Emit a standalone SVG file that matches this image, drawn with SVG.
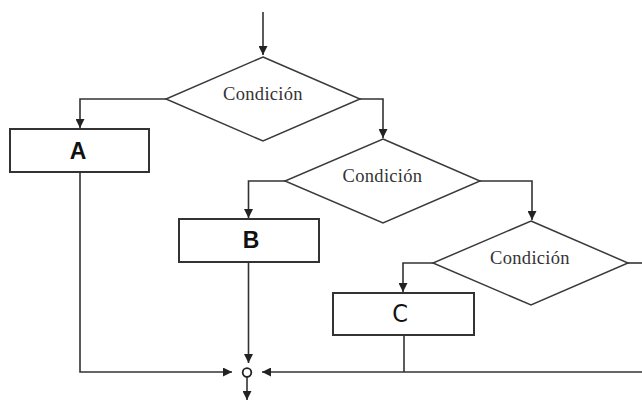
<svg xmlns="http://www.w3.org/2000/svg" width="642" height="401" viewBox="0 0 642 401">
<defs>
<style>
.conn{fill:none;stroke:#333;stroke-width:1.6}
.box{fill:#fff;stroke:#333;stroke-width:2}
.dia{fill:#fff;stroke:#3a3a3a;stroke-width:1.5}
.cond{font-family:"Liberation Serif","Times New Roman",serif;font-size:18.5px;letter-spacing:0.3px;fill:#333;text-anchor:middle}
.lbl{font-family:"Liberation Sans",Arial,sans-serif;font-size:23px;font-weight:bold;fill:#111;text-anchor:middle}
</style>
<marker id="ah" viewBox="0 0 10 10" refX="10" refY="5" markerWidth="9" markerHeight="9" markerUnits="userSpaceOnUse" orient="auto">
<path d="M0,0 L10,5 L0,10 z" fill="#222"/>
</marker>
</defs>
<rect width="642" height="401" fill="#fff"/>
<g id="connectors">
<path class="conn" d="M263,12 V55" marker-end="url(#ah)"/>
<path class="conn" d="M166,99 H80 V128" marker-end="url(#ah)"/>
<path class="conn" d="M360,99 H383 V138" marker-end="url(#ah)"/>
<path class="conn" d="M285,181 H248.5 V218" marker-end="url(#ah)"/>
<path class="conn" d="M480,181 H532 V220" marker-end="url(#ah)"/>
<path class="conn" d="M433,263 H403 V292" marker-end="url(#ah)"/>
<path class="conn" d="M628,263 H642"/>
<path class="conn" d="M80,172 V372 H232" marker-end="url(#ah)"/>
<path class="conn" d="M248.5,262 V363" marker-end="url(#ah)"/>
<path class="conn" d="M404,335 V372"/>
<path class="conn" d="M642,372 H262" marker-end="url(#ah)"/>
<path class="conn" d="M247,377 V400" marker-end="url(#ah)"/>
</g>
<g id="junction">
<circle cx="247" cy="372.5" r="4.3" fill="#fff" stroke="#222" stroke-width="1.8"/>
</g>
<g id="cond1">
<polygon class="dia" points="263,57 360,99 263,141 166,99"/>
<text class="cond" x="263" y="100">Condición</text>
</g>
<g id="cond2">
<polygon class="dia" points="383,139 480,181 383,223 285,181"/>
<text class="cond" x="382.5" y="182">Condición</text>
</g>
<g id="cond3">
<polygon class="dia" points="531,221 628,263 531,305 433,263"/>
<text class="cond" x="530" y="264">Condición</text>
</g>
<g id="boxA">
<rect class="box" x="10" y="129" width="139" height="43"/>
<text class="lbl" x="78" y="159">A</text>
</g>
<g id="boxB">
<rect class="box" x="179" y="219" width="140" height="43"/>
<text class="lbl" x="251" y="248">B</text>
</g>
<g id="boxC">
<rect class="box" x="333" y="293" width="141" height="42"/>
<text class="lbl" x="400" y="322" style="font-weight:normal;font-size:25px;font-family:'DejaVu Sans Condensed','Liberation Sans',sans-serif">C</text>
</g>
</svg>
